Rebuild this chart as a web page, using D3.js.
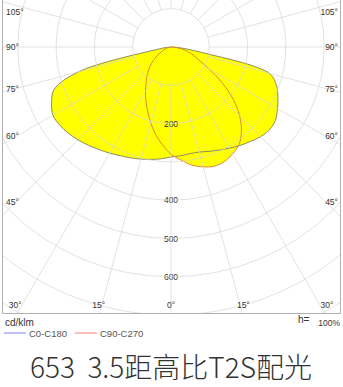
<!DOCTYPE html>
<html>
<head>
<meta charset="utf-8">
<script src="https://cdn.jsdelivr.net/npm/d3@7"></script>
<style>
  body { margin: 0; background: #fff; }
  svg { display: block; }
</style>
</head>
<body>
<div id="chart"></div>
<script>
var width = 343;
var height = 387;
var cx = 171;
var cy = 47;

// gamma angles (deg from nadir) and intensities in cd/klm
var angles = [0, 5, 10, 15, 20, 25, 30, 35, 40, 45, 50, 55, 60, 65, 70, 75, 80, 85, 90];
var c0   = [287, 285, 283, 284, 290, 297, 305, 314, 322, 331, 336, 333, 321, 308, 293, 266, 80, 22, 0];
var c180 = [287, 293, 298, 303, 308, 313, 320, 327, 335, 343, 350, 355, 356, 344, 325, 250, 40, 10, 0];
var c90  = [280, 296, 313, 324, 331, 330, 322, 310, 286, 253, 212, 163, 115, 80, 62, 45, 28, 12, 0];
var c270 = [280, 256, 232, 205, 178, 155, 133, 113, 97, 82, 66, 50, 37, 26, 17, 11, 6, 2, 0];

var ringValues = [100, 200, 300, 400, 500, 600, 700, 800, 900];
var ringLabels = [200, 400, 500, 600];
var spokeAngles = d3.range(0, 360, 15);
var sideTicks = [45, 60, 75, 90, 105];
var bottomTicks = [-30, -15, 0, 15, 30];
var legendNames = ["C0-C180", "C90-C270"];
var legendColors = ["#0000ff", "#ff0000"];
var edgeColors = ["#8c8c62", "#dc8a30"];
var titleText = "653  3.5距高比T2S配光";

var r = d3.scaleLinear().domain([0, 100]).range([0, 38.3]);
var frame = {left: 2.5, right: 340.5, bottom: 313.5};

var svg = d3.select('#chart')
  .append('svg')
  .attr('width', width)
  .attr('height', height);

svg.append('clipPath').attr('id', 'plotclip')
  .append('rect')
  .attr('x', frame.left).attr('y', 0)
  .attr('width', frame.right - frame.left)
  .attr('height', frame.bottom);

// turn a signed gamma (negative = left half) into d3 radial angle
function toRad(g) {
  return Math.PI - g * Math.PI / 180;
}

function curvePoints(left, right) {
  var pts = [];
  for (var i = angles.length - 1; i > 0; i--) {
    pts.push([-angles[i], left[i]]);
  }
  for (var j = 0; j < angles.length; j++) {
    pts.push([angles[j], right[j]]);
  }
  return pts;
}

var radial = d3.lineRadial()
  .angle(function(d) { return toRad(d[0]); })
  .radius(function(d) { return r(d[1]); })
  .curve(d3.curveCatmullRom.alpha(0.5));

var plot = svg.append('g')
  .attr('transform', 'translate(' + cx + ',' + cy + ')');

var shapes = [curvePoints(c180, c0), curvePoints(c270, c90)];

plot.selectAll('path.fill')
  .data(shapes)
  .enter()
  .append('path')
  .attr('class', 'fill')
  .attr('d', function(d) { return radial(d) + 'Z'; })
  .attr('fill', '#ffff00');

// grid, drawn over the fill
var grid = svg.append('g')
  .attr('clip-path', 'url(#plotclip)')
  .append('g')
  .attr('transform', 'translate(' + cx + ',' + cy + ')')
  .attr('stroke', '#d6d6d6')
  .attr('stroke-opacity', 0.7)
  .attr('fill', 'none');

grid.selectAll('circle')
  .data(ringValues)
  .enter()
  .append('circle')
  .attr('r', function(d) { return r(d); });

grid.selectAll('line')
  .data(spokeAngles)
  .enter()
  .append('line')
  .attr('x1', function(d) { return r(100) * Math.sin(d * Math.PI / 180); })
  .attr('y1', function(d) { return r(100) * Math.cos(d * Math.PI / 180); })
  .attr('x2', function(d) { return r(1000) * Math.sin(d * Math.PI / 180); })
  .attr('y2', function(d) { return r(1000) * Math.cos(d * Math.PI / 180); });

plot.selectAll('path.edge')
  .data(shapes)
  .enter()
  .append('path')
  .attr('class', 'edge')
  .attr('d', function(d) { return radial(d) + 'Z'; })
  .attr('fill', 'none')
  .attr('stroke', function(d, i) { return edgeColors[i]; })
  .attr('stroke-width', 1);

plot.selectAll('text.ring')
  .data(ringLabels)
  .enter()
  .append('text')
  .attr('class', 'ring')
  .attr('x', 0)
  .attr('y', function(d) { return r(d) + 3; })
  .attr('text-anchor', 'middle')
  .attr('font-family', 'Liberation Sans, Arial, sans-serif')
  .attr('font-size', 8.5)
  .attr('fill', '#333')
  .text(function(d) { return d; });

// frame
svg.append('path')
  .attr('d', 'M' + frame.left + ',0V' + frame.bottom + 'H' + frame.right + 'V0')
  .attr('fill', 'none')
  .attr('stroke', '#b0b0b0');

// angle labels where the spokes meet an inner box
var boxHalf = 155;
var boxDown = 270;
var labelFont = 'Liberation Sans, Arial, sans-serif';

sideTicks.forEach(function(g) {
  var y = cy + boxHalf / Math.tan(g * Math.PI / 180);
  y = Math.max(y, 12);
  [-1, 1].forEach(function(s) {
    svg.append('text')
      .attr('x', s < 0 ? 6 : 338)
      .attr('y', y + 3)
      .attr('text-anchor', s < 0 ? 'start' : 'end')
      .attr('font-family', labelFont)
      .attr('font-size', 8.5)
      .attr('fill', '#333')
      .text(g + '°');
  });
});

bottomTicks.forEach(function(g) {
  var x = cx + boxDown * Math.tan(g * Math.PI / 180);
  svg.append('text')
    .attr('x', Math.min(Math.max(x, 14), 328))
    .attr('y', 308)
    .attr('text-anchor', 'middle')
    .attr('font-family', labelFont)
    .attr('font-size', 8.5)
    .attr('fill', '#333')
    .text(Math.abs(g) + '°');
});

svg.append('text')
  .attr('x', 5).attr('y', 326)
  .attr('font-family', labelFont)
  .attr('font-size', 10)
  .attr('fill', '#333')
  .text('cd/klm');

svg.append('text')
  .attr('x', 298).attr('y', 323)
  .attr('font-family', labelFont)
  .attr('font-size', 10)
  .attr('fill', '#333')
  .text('h=');

svg.append('text')
  .attr('x', 340).attr('y', 326)
  .attr('text-anchor', 'end')
  .attr('font-family', labelFont)
  .attr('font-size', 8.5)
  .attr('fill', '#333')
  .text('100%');

var legend = svg.selectAll('g.legend')
  .data(legendNames)
  .enter()
  .append('g')
  .attr('class', 'legend')
  .attr('transform', function(d, i) { return 'translate(' + (4 + i * 71) + ',333)'; });

legend.append('line')
  .attr('x1', 0).attr('x2', 22)
  .attr('stroke', function(d, i) { return legendColors[i]; })
  .attr('stroke-opacity', 0.5);

legend.append('text')
  .attr('x', 25).attr('y', 3.5)
  .attr('font-family', labelFont)
  .attr('font-size', 9.5)
  .attr('fill', '#555')
  .text(function(d) { return d; });

svg.append('text')
  .attr('x', cx).attr('y', 378)
  .attr('text-anchor', 'middle')
  .attr('font-family', '"Noto Sans CJK SC", "Noto Sans", sans-serif')
  .attr('font-weight', 300)
  .attr('font-size', 28)
  .attr('fill', '#333')
  .style('white-space', 'pre')
  .text(titleText);
</script>
</body>
</html>
